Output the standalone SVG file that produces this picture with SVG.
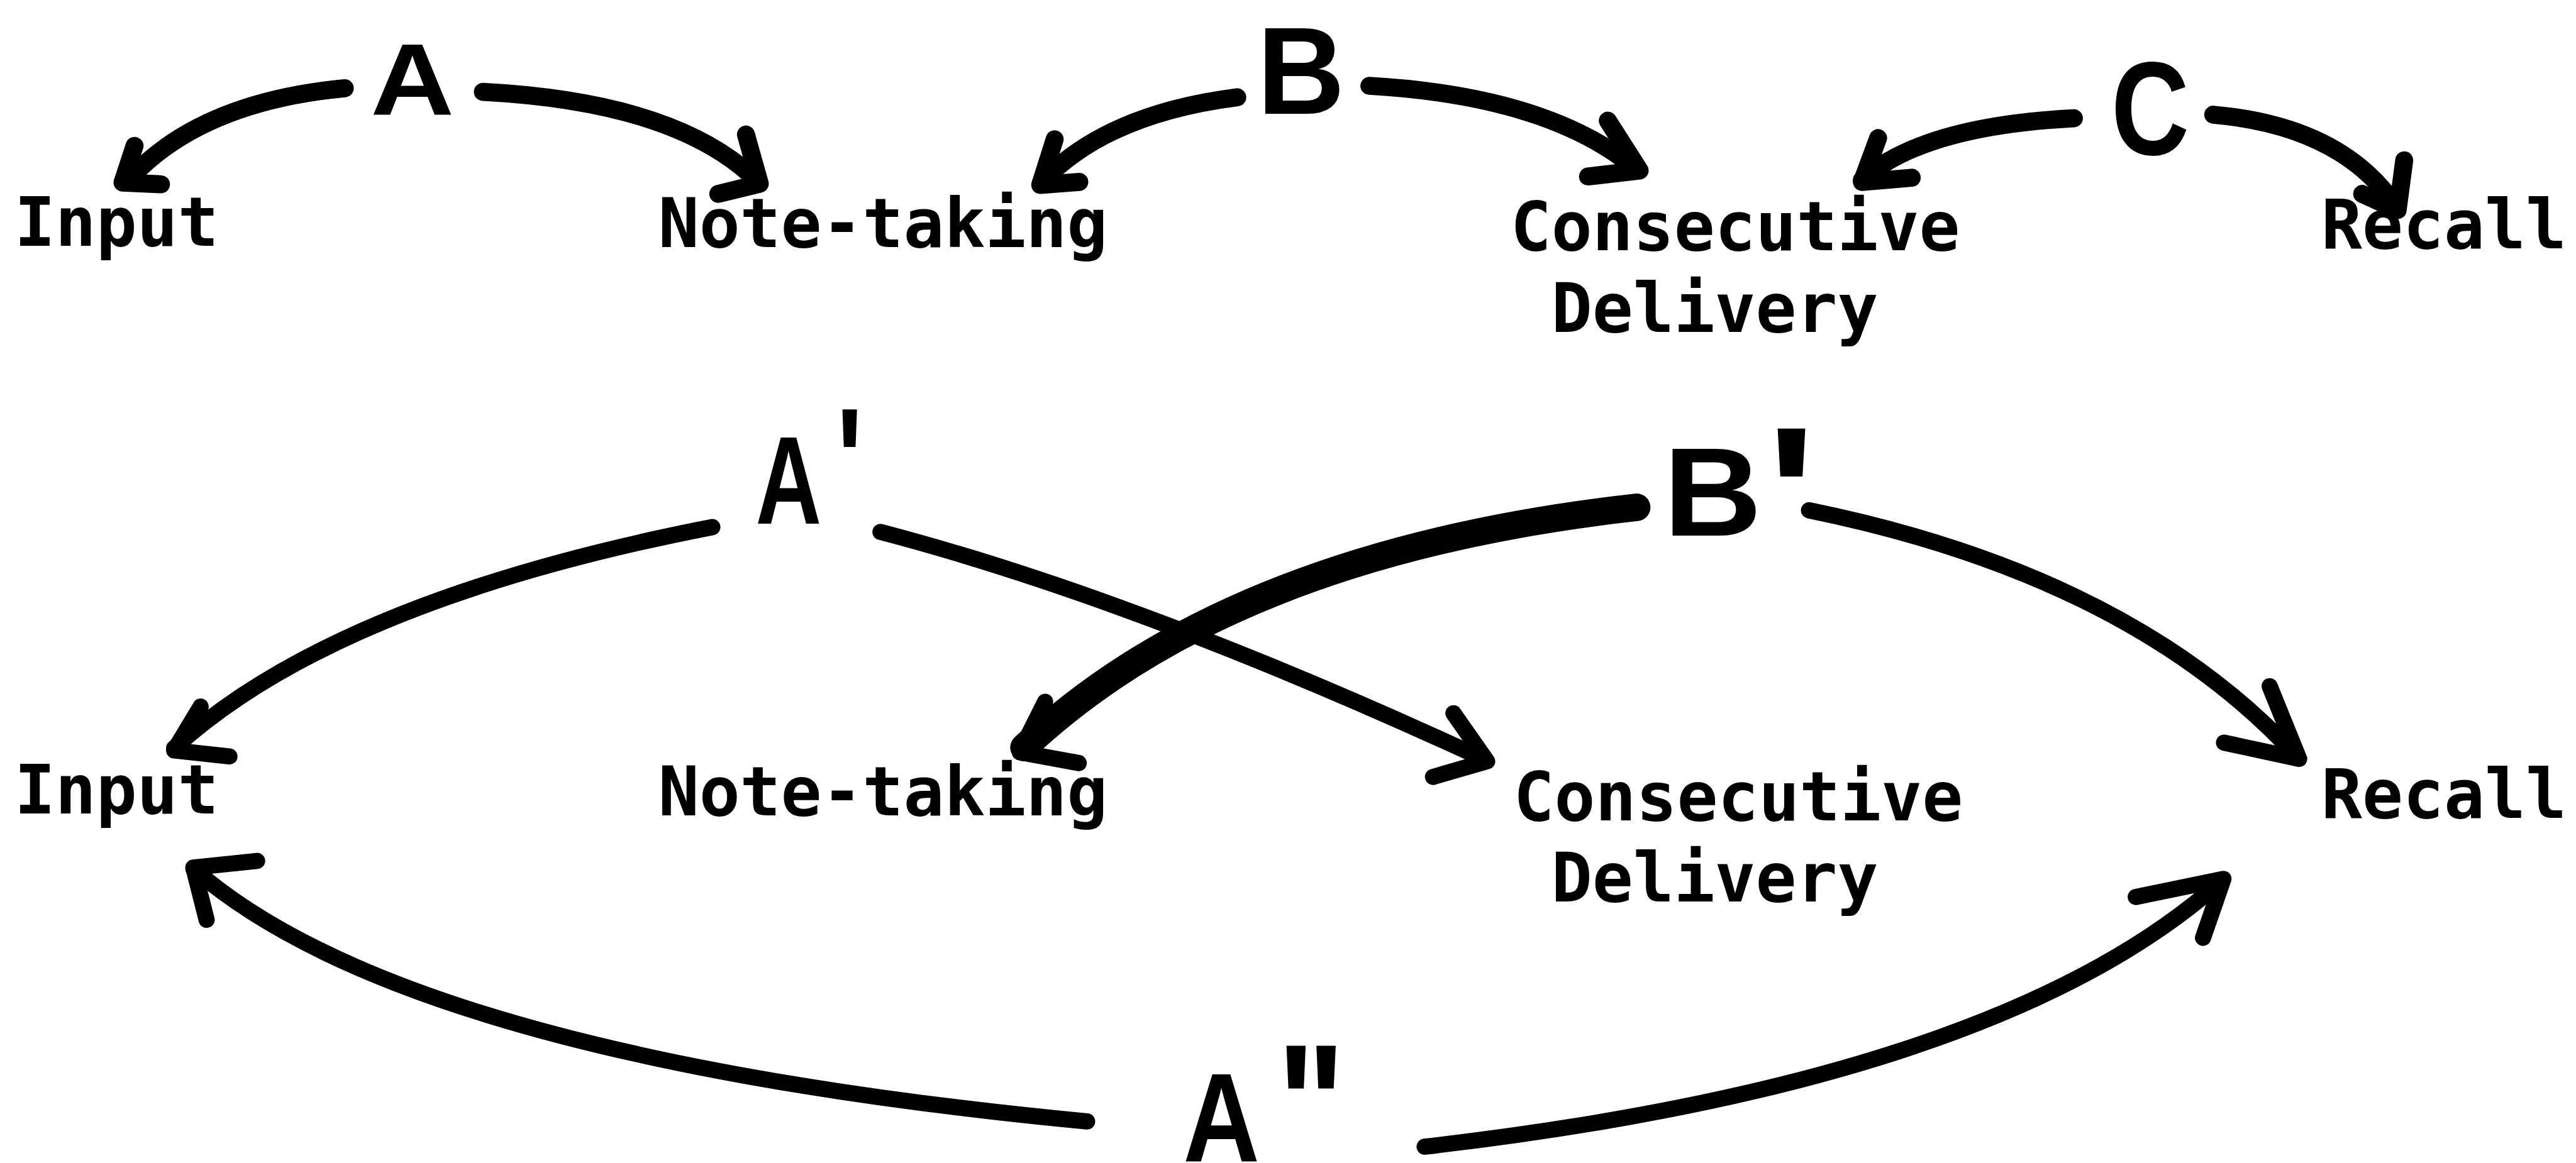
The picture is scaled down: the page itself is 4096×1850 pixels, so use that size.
<svg xmlns="http://www.w3.org/2000/svg" width="4096" height="1850" viewBox="0 0 4096 1850">
<style>
.lbl{font-family:"DejaVu Sans Mono","Liberation Mono",monospace;font-weight:bold;font-size:113px;fill:#000}
.ltr{font-family:"Liberation Sans",Arial,sans-serif;font-weight:bold;fill:#000}
.arr{fill:none;stroke:#000;stroke-linecap:round;stroke-linejoin:round}
.top{stroke-width:30}
.thin{stroke-width:27}
.thick{stroke-width:46}
</style>
<rect x="0" y="0" width="4096" height="1850" fill="#fff"/>
<g transform="scale(0.955)">
<g id="connectors">
  <path class="arr top" d="M574,147 Q330,170 212,302"/>
  <path class="arr top" d="M224,243 L204,304 L268,307"/>
  <path class="arr top" d="M804,153 Q1130,170 1262,303"/>
  <path class="arr top" d="M1242,224 L1265,306 L1196,323"/>
  <path class="arr top" d="M2060,162 Q1840,190 1733,305"/>
  <path class="arr top" d="M1756,232 L1732,308 L1797,303"/>
  <path class="arr top" d="M2280,143 Q2580,160 2726,283"/>
  <path class="arr top" d="M2677,201 L2730,284 L2644,294"/>
  <path class="arr top" d="M3453,197 Q3200,210 3100,300"/>
  <path class="arr top" d="M3127,230 L3100,303 L3183,296"/>
  <path class="arr top" d="M3685,191 Q3900,210 3990,345"/>
  <path class="arr top" d="M4003,267 L3992,350 L3933,323"/>
  <path class="arr thin" d="M1186,878 Q560,1000 290,1246"/>
  <path class="arr thin" d="M334,1177 L290,1250 L382,1260"/>
  <path class="arr thin" d="M1466,886 Q1900,1000 2474,1266"/>
  <path class="arr thin" d="M2420,1188 L2476,1268 L2386,1294"/>
  <path class="arr thick" d="M2725,845 Q2050,920 1705,1245"/>
  <path class="arr thin" d="M1740,1169 L1698,1253 L1796,1271"/>
  <path class="arr thin" d="M3012,850 Q3550,960 3826,1262"/>
  <path class="arr thin" d="M3779,1143 L3828,1264 L3703,1237"/>
  <path class="arr thin" d="M1810,1868 Q680,1760 322,1447"/>
  <path class="arr thin" d="M344,1532 L322,1445 L428,1434"/>
  <path class="arr thin" d="M2372,1910 Q3330,1800 3700,1466"/>
  <path class="arr thin" d="M3556,1494 L3702,1464 L3668,1562"/>
</g>
<g id="node-A"><text class="ltr" font-size="169" transform="translate(617,191) scale(1.14,1)">A</text></g>
<g id="node-B"><text class="ltr" font-size="206" transform="translate(2108,190) scale(0.98,1)" x="-15">B</text></g>
<g id="node-C"><text class="ltr" font-size="222" transform="translate(3524,258) scale(0.81,1)" x="-11">C</text></g>
<g id="node-A1"><text class="ltr" font-size="208" transform="translate(1258,872) scale(0.73,1)"><tspan x="0" y="0">A</tspan><tspan x="185" y="-18" font-size="250">'</tspan></text></g>
<g id="node-B1"><text class="ltr" font-size="210" transform="translate(2787,892) scale(1.08,1)"><tspan x="-16" y="0">B</tspan><tspan x="143" y="42" font-size="320">'</tspan></text></g>
<g id="node-A2"><text class="ltr" font-size="210" transform="translate(1970,1934) scale(0.84,1)"><tspan x="0" y="0">A</tspan><tspan x="186" y="4" font-size="285">"</tspan></text></g>
<g id="node-input1"><text class="lbl" x="24" y="409">Input</text></g>
<g id="node-note1"><text class="lbl" x="1096" y="412">Note-taking</text></g>
<g id="node-consec1"><text class="lbl" x="2515" y="417">Consecutive</text><text class="lbl" x="2583" y="553">Delivery</text></g>
<g id="node-recall1"><text class="lbl" x="3865" y="414">Recall</text></g>
<g id="node-input2"><text class="lbl" x="24" y="1355">Input</text></g>
<g id="node-note2"><text class="lbl" x="1096" y="1358">Note-taking</text></g>
<g id="node-consec2"><text class="lbl" x="2520" y="1366">Consecutive</text><text class="lbl" x="2583" y="1502">Delivery</text></g>
<g id="node-recall2"><text class="lbl" x="3865" y="1362">Recall</text></g>
</g>
</svg>
